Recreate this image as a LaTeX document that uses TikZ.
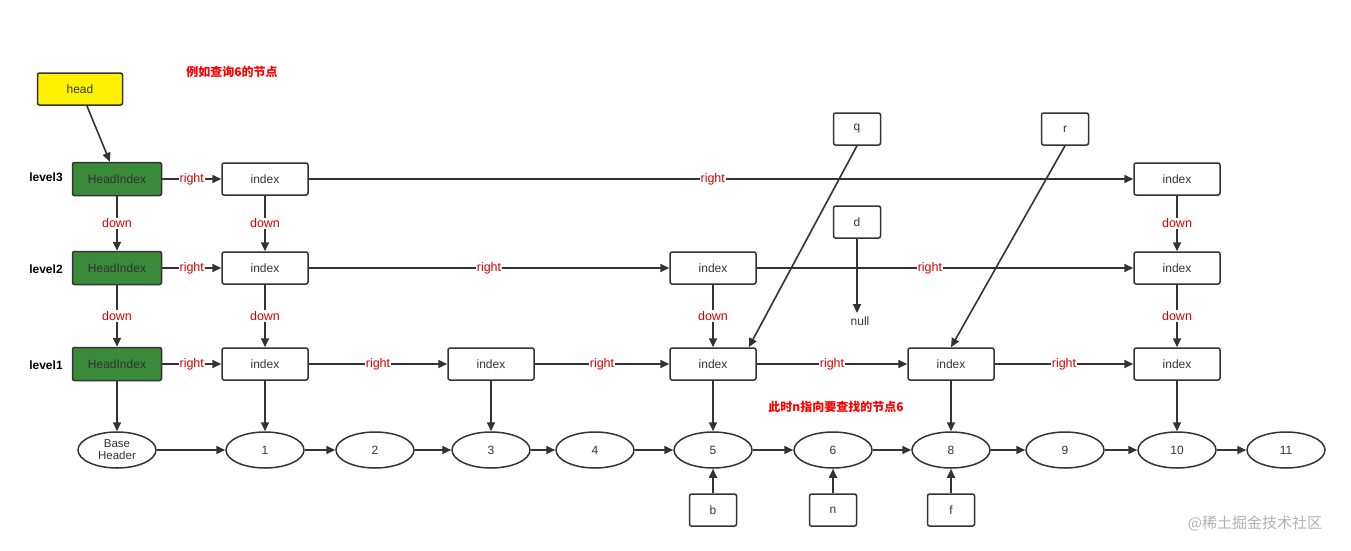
\documentclass[tikz,border=0pt]{standalone}
\usepackage{fontspec}
\setmainfont{Liberation Sans}
\newfontfamily\cjk{Noto Sans CJK SC}
\usetikzlibrary{arrows.meta,shapes.geometric}
\definecolor{ln}{HTML}{333333}
\definecolor{gr}{HTML}{3A8A3A}
\begin{document}
\begin{tikzpicture}[x=1pt,y=-1pt,font=\fontsize{12}{13}\selectfont,
  box/.style={draw=ln,rounded corners=2pt,line width=1.5pt,minimum width=86pt,minimum height=32pt,text=ln},
  hbox/.style={box,fill=gr,minimum width=89pt,minimum height=33pt},
  sbox/.style={box,minimum width=47pt},
  ell/.style={draw=ln,ellipse,line width=1.5pt,minimum width=78pt,minimum height=36pt,inner sep=0pt,text=ln,align=center},
  arr/.style={draw=ln,line width=1.6pt,-{Triangle[length=9pt,width=8pt]}},
  lab/.style={fill=white,text=red!85!black,inner sep=1pt,font=\fontsize{12.5}{13}\selectfont},
  lvl/.style={font=\bfseries\fontsize{12}{13}\selectfont}]
\useasboundingbox (0,0) rectangle (1351,551);
\node[box,fill=yellow,minimum width=85pt] (head) at (80,89) {head};
\node[text=red,font=\cjk\bfseries\fontsize{12}{13}\selectfont] (t1) at (232,72) {例如查询6的节点};
\node[hbox] (h3) at (117,179) {HeadIndex};
\node[hbox] (h2) at (117,268) {HeadIndex};
\node[hbox] (h1) at (117,364) {HeadIndex};
\node[lvl] (l3) at (46,177) {level3};
\node[lvl] (l2) at (46,269) {level2};
\node[lvl] (l1) at (46,365) {level1};
\node[box] (a3) at (265,179) {index};
\node[box] (e3) at (1177,179) {index};
\node[box] (a2) at (265,268) {index};
\node[box] (c2) at (713,268) {index};
\node[box] (e2) at (1177,268) {index};
\node[box] (a1) at (265,364) {index};
\node[box] (b1) at (491,364) {index};
\node[box] (c1) at (713,364) {index};
\node[box] (d1) at (951,364) {index};
\node[box] (e1) at (1177,364) {index};
\node[sbox] (q) at (857,129) {q};
\node[sbox] (r) at (1065,129) {r};
\node[sbox] (d) at (857,222) {d};
\node[text=ln] (null) at (860,321) {null};
\node[ell,font=\fontsize{11.5}{12}\selectfont] (bh) at (117,450) {Base\\Header};
\foreach \n/\x in {1/265,2/375,3/491,4/595,5/713,6/833,8/951,9/1065,10/1177,11/1286}
  \node[ell] (n\n) at (\x,450) {\n};
\node[sbox] (b) at (713,510) {b};
\node[sbox] (nn) at (833,510) {n};
\node[sbox] (f) at (951,510) {f};
\node[text=red,font=\cjk\bfseries\fontsize{12}{13}\selectfont] (t2) at (836,407) {此时n指向要查找的节点6};
\node[text=gray!60,font=\cjk\fontsize{15}{16}\selectfont] (wm) at (1255,523) {@稀土掘金技术社区};
\draw[arr] (head) -- (h3);
\draw[arr] (h3) -- node[lab]{right} (a3);
\draw[arr] (a3) -- node[lab,pos=0.49]{right} (e3);
\draw[arr] (h2) -- node[lab]{right} (a2);
\draw[arr] (a2) -- node[lab,pos=0.5]{right} (c2);
\draw[arr] (c2) -- node[lab,pos=0.46]{right} (e2);
\draw[arr] (h1) -- node[lab]{right} (a1);
\draw[arr] (a1) -- node[lab]{right} (b1);
\draw[arr] (b1) -- node[lab]{right} (c1);
\draw[arr] (c1) -- node[lab]{right} (d1);
\draw[arr] (d1) -- node[lab]{right} (e1);
\draw[arr] (h3) -- node[lab]{down} (h2);
\draw[arr] (h2) -- node[lab]{down} (h1);
\draw[arr] (a3) -- node[lab]{down} (a2);
\draw[arr] (a2) -- node[lab]{down} (a1);
\draw[arr] (c2) -- node[lab]{down} (c1);
\draw[arr] (e3) -- node[lab]{down} (e2);
\draw[arr] (e2) -- node[lab]{down} (e1);
\draw[arr] (h1) -- (bh);
\draw[arr] (a1) -- (n1);
\draw[arr] (b1) -- (n3);
\draw[arr] (c1) -- (n5);
\draw[arr] (d1) -- (n8);
\draw[arr] (e1) -- (n10);
\draw[arr] (bh) -- (n1);
\draw[arr] (n1) -- (n2);
\draw[arr] (n2) -- (n3);
\draw[arr] (n3) -- (n4);
\draw[arr] (n4) -- (n5);
\draw[arr] (n5) -- (n6);
\draw[arr] (n6) -- (n8);
\draw[arr] (n8) -- (n9);
\draw[arr] (n9) -- (n10);
\draw[arr] (n10) -- (n11);
\draw[arr] (q.south) -- ([xshift=-8pt]c1.north east);
\draw[arr] (r.south) -- (d1.north);
\draw[arr] (d.south) -- (d.south |- null.north);
\draw[arr] (b) -- (n5);
\draw[arr] (nn) -- (n6);
\draw[arr] (f) -- (n8);
\end{tikzpicture}
\end{document}
